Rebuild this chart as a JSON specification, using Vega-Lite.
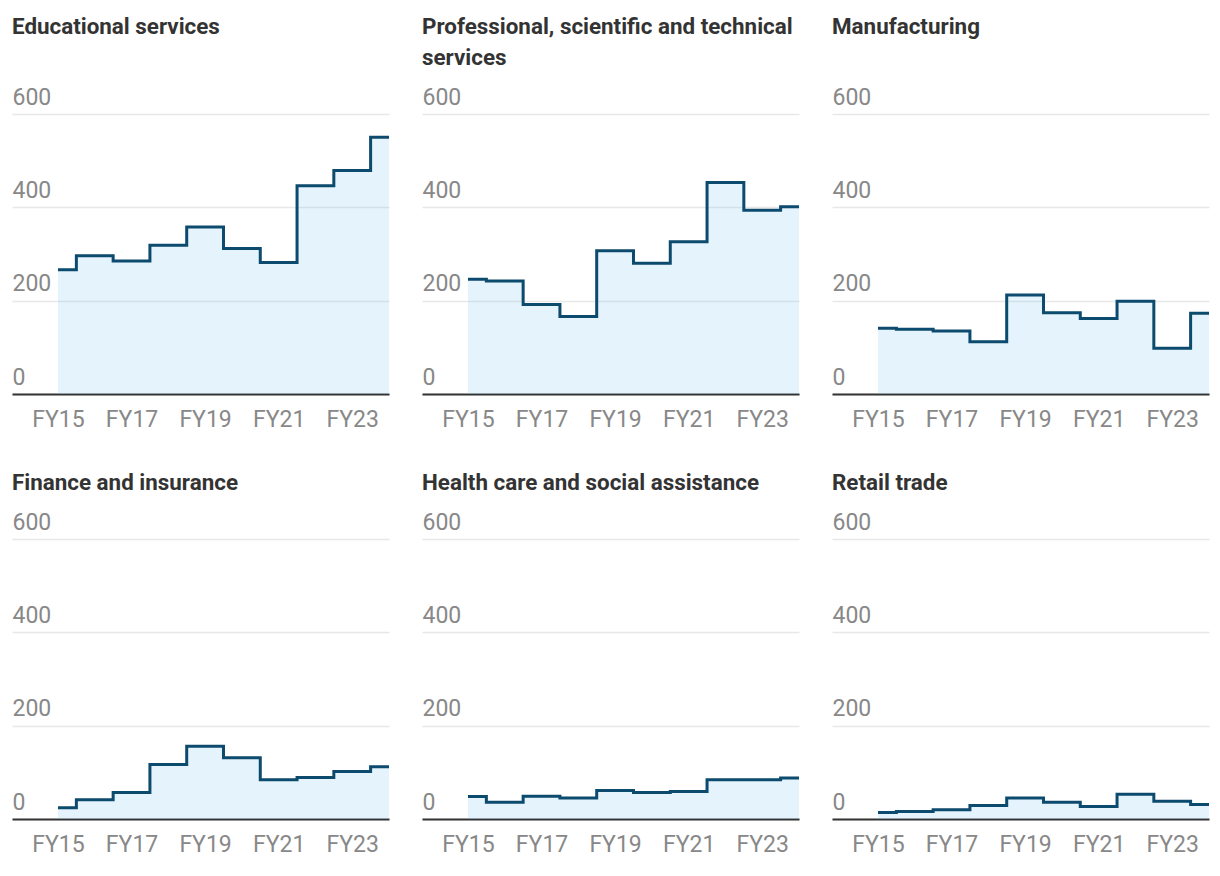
{
  "$schema": "https://vega.github.io/schema/vega-lite/v6.json",
  "background": "white",
  "padding": {"left": 12, "top": 15, "right": 5, "bottom": 5},
  "data": {"values": [
    {"sector": "Educational services", "year": 2015, "value": 266},
    {"sector": "Educational services", "year": 2016, "value": 296},
    {"sector": "Educational services", "year": 2017, "value": 285},
    {"sector": "Educational services", "year": 2018, "value": 319},
    {"sector": "Educational services", "year": 2019, "value": 358},
    {"sector": "Educational services", "year": 2020, "value": 312},
    {"sector": "Educational services", "year": 2021, "value": 282},
    {"sector": "Educational services", "year": 2022, "value": 446},
    {"sector": "Educational services", "year": 2023, "value": 479},
    {"sector": "Educational services", "year": 2024, "value": 550},
    {"sector": "Professional", "year": 2015, "value": 246},
    {"sector": "Professional", "year": 2016, "value": 242},
    {"sector": "Professional", "year": 2017, "value": 192},
    {"sector": "Professional", "year": 2018, "value": 166},
    {"sector": "Professional", "year": 2019, "value": 307},
    {"sector": "Professional", "year": 2020, "value": 280},
    {"sector": "Professional", "year": 2021, "value": 326},
    {"sector": "Professional", "year": 2022, "value": 453},
    {"sector": "Professional", "year": 2023, "value": 394},
    {"sector": "Professional", "year": 2024, "value": 401},
    {"sector": "Manufacturing", "year": 2015, "value": 141},
    {"sector": "Manufacturing", "year": 2016, "value": 139},
    {"sector": "Manufacturing", "year": 2017, "value": 135},
    {"sector": "Manufacturing", "year": 2018, "value": 112},
    {"sector": "Manufacturing", "year": 2019, "value": 212},
    {"sector": "Manufacturing", "year": 2020, "value": 174},
    {"sector": "Manufacturing", "year": 2021, "value": 162},
    {"sector": "Manufacturing", "year": 2022, "value": 199},
    {"sector": "Manufacturing", "year": 2023, "value": 98},
    {"sector": "Manufacturing", "year": 2024, "value": 173},
    {"sector": "Finance", "year": 2015, "value": 24},
    {"sector": "Finance", "year": 2016, "value": 41},
    {"sector": "Finance", "year": 2017, "value": 57},
    {"sector": "Finance", "year": 2018, "value": 117},
    {"sector": "Finance", "year": 2019, "value": 156},
    {"sector": "Finance", "year": 2020, "value": 131},
    {"sector": "Finance", "year": 2021, "value": 84},
    {"sector": "Finance", "year": 2022, "value": 89},
    {"sector": "Finance", "year": 2023, "value": 102},
    {"sector": "Finance", "year": 2024, "value": 112},
    {"sector": "Health", "year": 2015, "value": 48},
    {"sector": "Health", "year": 2016, "value": 36},
    {"sector": "Health", "year": 2017, "value": 49},
    {"sector": "Health", "year": 2018, "value": 45},
    {"sector": "Health", "year": 2019, "value": 61},
    {"sector": "Health", "year": 2020, "value": 57},
    {"sector": "Health", "year": 2021, "value": 59},
    {"sector": "Health", "year": 2022, "value": 84},
    {"sector": "Health", "year": 2023, "value": 84},
    {"sector": "Health", "year": 2024, "value": 88},
    {"sector": "Retail", "year": 2015, "value": 14},
    {"sector": "Retail", "year": 2016, "value": 16},
    {"sector": "Retail", "year": 2017, "value": 20},
    {"sector": "Retail", "year": 2018, "value": 29},
    {"sector": "Retail", "year": 2019, "value": 45},
    {"sector": "Retail", "year": 2020, "value": 36},
    {"sector": "Retail", "year": 2021, "value": 27},
    {"sector": "Retail", "year": 2022, "value": 53},
    {"sector": "Retail", "year": 2023, "value": 38},
    {"sector": "Retail", "year": 2024, "value": 31}
  ]},
  "columns": 3,
  "bounds": "flush",
  "spacing": {"column": 33, "row": 145},
  "concat": [
    {
      "title": {"text": ["Educational services", ""]},
      "width": 377, "height": 280,
      "transform": [{"filter": "datum.sector === 'Educational services'"}],
      "layer": [
        {"mark": {"type": "area", "interpolate": "step", "color": "#7fc8f0", "opacity": 0.2}},
        {"mark": {"type": "line", "interpolate": "step", "color": "#0c4a6e", "strokeWidth": 3}}
      ],
      "encoding": {
        "x": {"field": "year", "type": "quantitative", "title": null, "scale": {"domain": [2013.75, 2024], "nice": false, "zero": false}, "axis": {"values": [2015, 2017, 2019, 2021, 2023], "labelExpr": "'FY' + substring(toString(datum.value), 2)"}},
        "y": {"field": "value", "type": "quantitative", "title": null, "scale": {"domain": [0, 600], "nice": false}, "axis": {"values": [0, 200, 400, 600]}}
      }
    },
    {
      "title": {"text": ["Professional, scientific and technical", "services"]},
      "width": 377, "height": 280,
      "transform": [{"filter": "datum.sector === 'Professional'"}],
      "layer": [
        {"mark": {"type": "area", "interpolate": "step", "color": "#7fc8f0", "opacity": 0.2}},
        {"mark": {"type": "line", "interpolate": "step", "color": "#0c4a6e", "strokeWidth": 3}}
      ],
      "encoding": {
        "x": {"field": "year", "type": "quantitative", "title": null, "scale": {"domain": [2013.75, 2024], "nice": false, "zero": false}, "axis": {"values": [2015, 2017, 2019, 2021, 2023], "labelExpr": "'FY' + substring(toString(datum.value), 2)"}},
        "y": {"field": "value", "type": "quantitative", "title": null, "scale": {"domain": [0, 600], "nice": false}, "axis": {"values": [0, 200, 400, 600]}}
      }
    },
    {
      "title": {"text": ["Manufacturing", ""]},
      "width": 377, "height": 280,
      "transform": [{"filter": "datum.sector === 'Manufacturing'"}],
      "layer": [
        {"mark": {"type": "area", "interpolate": "step", "color": "#7fc8f0", "opacity": 0.2}},
        {"mark": {"type": "line", "interpolate": "step", "color": "#0c4a6e", "strokeWidth": 3}}
      ],
      "encoding": {
        "x": {"field": "year", "type": "quantitative", "title": null, "scale": {"domain": [2013.75, 2024], "nice": false, "zero": false}, "axis": {"values": [2015, 2017, 2019, 2021, 2023], "labelExpr": "'FY' + substring(toString(datum.value), 2)"}},
        "y": {"field": "value", "type": "quantitative", "title": null, "scale": {"domain": [0, 600], "nice": false}, "axis": {"values": [0, 200, 400, 600]}}
      }
    },
    {
      "title": {"text": ["Finance and insurance"]},
      "width": 377, "height": 280,
      "transform": [{"filter": "datum.sector === 'Finance'"}],
      "layer": [
        {"mark": {"type": "area", "interpolate": "step", "color": "#7fc8f0", "opacity": 0.2}},
        {"mark": {"type": "line", "interpolate": "step", "color": "#0c4a6e", "strokeWidth": 3}}
      ],
      "encoding": {
        "x": {"field": "year", "type": "quantitative", "title": null, "scale": {"domain": [2013.75, 2024], "nice": false, "zero": false}, "axis": {"values": [2015, 2017, 2019, 2021, 2023], "labelExpr": "'FY' + substring(toString(datum.value), 2)"}},
        "y": {"field": "value", "type": "quantitative", "title": null, "scale": {"domain": [0, 600], "nice": false}, "axis": {"values": [0, 200, 400, 600]}}
      }
    },
    {
      "title": {"text": ["Health care and social assistance"]},
      "width": 377, "height": 280,
      "transform": [{"filter": "datum.sector === 'Health'"}],
      "layer": [
        {"mark": {"type": "area", "interpolate": "step", "color": "#7fc8f0", "opacity": 0.2}},
        {"mark": {"type": "line", "interpolate": "step", "color": "#0c4a6e", "strokeWidth": 3}}
      ],
      "encoding": {
        "x": {"field": "year", "type": "quantitative", "title": null, "scale": {"domain": [2013.75, 2024], "nice": false, "zero": false}, "axis": {"values": [2015, 2017, 2019, 2021, 2023], "labelExpr": "'FY' + substring(toString(datum.value), 2)"}},
        "y": {"field": "value", "type": "quantitative", "title": null, "scale": {"domain": [0, 600], "nice": false}, "axis": {"values": [0, 200, 400, 600]}}
      }
    },
    {
      "title": {"text": ["Retail trade"]},
      "width": 377, "height": 280,
      "transform": [{"filter": "datum.sector === 'Retail'"}],
      "layer": [
        {"mark": {"type": "area", "interpolate": "step", "color": "#7fc8f0", "opacity": 0.2}},
        {"mark": {"type": "line", "interpolate": "step", "color": "#0c4a6e", "strokeWidth": 3}}
      ],
      "encoding": {
        "x": {"field": "year", "type": "quantitative", "title": null, "scale": {"domain": [2013.75, 2024], "nice": false, "zero": false}, "axis": {"values": [2015, 2017, 2019, 2021, 2023], "labelExpr": "'FY' + substring(toString(datum.value), 2)"}},
        "y": {"field": "value", "type": "quantitative", "title": null, "scale": {"domain": [0, 600], "nice": false}, "axis": {"values": [0, 200, 400, 600]}}
      }
    }
  ],
  "config": {
    "view": {"stroke": null},
    "font": "Roboto",
    "title": {"anchor": "start", "frame": "group", "font": "Roboto", "fontSize": 22.4, "fontWeight": "bold", "color": "#333333", "offset": 17, "lineHeight": 31},
    "axisX": {"ticks": false, "grid": false, "domain": true, "domainColor": "#333333", "domainWidth": 2, "labelColor": "#888888", "labelFont": "Roboto", "labelFontSize": 23, "labelPadding": 14, "labelFlush": false, "zindex": 1},
    "axisY": {"domain": false, "ticks": false, "grid": true, "gridColor": "#e8e8e8", "gridWidth": 1.5, "labelAlign": "left", "labelBaseline": "alphabetic", "labelOffset": -10, "labelPadding": 0, "labelColor": "#888888", "labelFont": "Roboto", "labelFontSize": 23}
  }
}
